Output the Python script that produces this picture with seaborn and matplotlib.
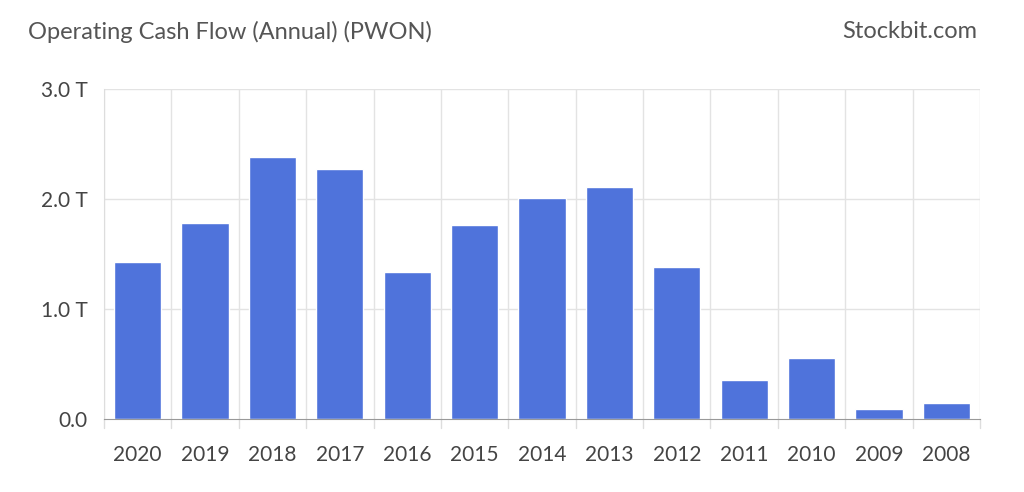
import matplotlib
matplotlib.use("Agg")
import matplotlib.pyplot as plt
import seaborn as sns
import pandas as pd

years = ["2020","2019","2018","2017","2016","2015","2014","2013","2012","2011","2010","2009","2008"]
values = [1.43,1.78,2.38,2.27,1.34,1.76,2.01,2.11,1.38,0.355,0.555,0.095,0.145]
yticks = [0.0,1.0,2.0,3.0]
ylabels = ["0.0","1.0 T","2.0 T","3.0 T"]

sns.set_style("white")
plt.rcParams['font.family'] = ['Lato','DejaVu Sans']
fig = plt.figure(figsize=(10.24,4.92), dpi=100)
ax = fig.add_axes([104/1024, (492-419)/492, 876/1024, 330/492])
df = pd.DataFrame({"year": years, "v": values})
sns.barplot(data=df, x="year", y="v", color="#4F73DB", saturation=1, width=0.7, ax=ax)
ax.set_xlim(-0.5, len(years)-0.5)
ax.set_ylim(0,3.0)
ax.set_yticks(yticks)
ax.set_yticklabels(ylabels, color="#444444", fontsize=15)
ax.set_xlabel(""); ax.set_ylabel("")
ax.tick_params(axis='x', length=0, labelsize=15, labelcolor="#444444", pad=19)
ax.tick_params(axis='y', length=8, color="#dddddd", pad=4)
for y in yticks[1:]:
    ax.axhline(y, color="#e3e3e3", lw=1, zorder=0)
for i in range(len(years)+1):
    ax.axvline(i-0.5, color="#e3e3e3", lw=1, zorder=0)
    ax.plot([i-0.5,i-0.5],[0,-0.08], color="#dddddd", lw=1, clip_on=False)
for s in ["top","right"]:
    ax.spines[s].set_visible(False)
ax.spines["left"].set_color("#dddddd")
ax.spines["bottom"].set_color("#999999")
fig.text(28/1024, 1-32/492, "Operating Cash Flow (Annual) (PWON)", fontsize=17, color="#555555", va="center")
fig.text(977/1024, 1-32/492, "Stockbit.com", fontsize=17, color="#555555", va="center", ha="right")
fig.savefig("out.png", dpi=100)
